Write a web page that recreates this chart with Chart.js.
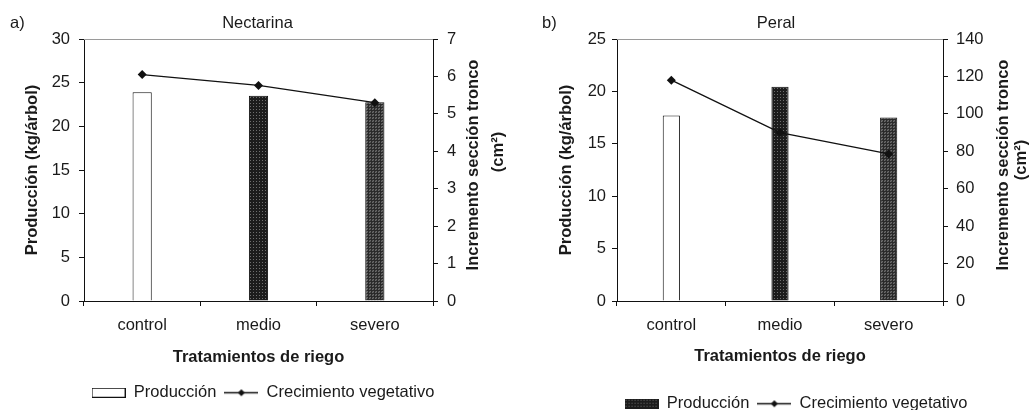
<!DOCTYPE html>
<html>
<head>
<meta charset="utf-8">
<script src="https://cdn.jsdelivr.net/npm/chart.js@4.4.1/dist/chart.umd.min.js"></script>
<style>
  body { margin: 0; background: #fff; width: 1033px; height: 410px; overflow: hidden; position: relative; }
  canvas { position: absolute; top: 0; }
  #nectarina { left: 0; }
  #peral { left: 530px; }
</style>
</head>
<body>
<canvas id="nectarina" width="526" height="411"></canvas>
<canvas id="peral" width="532" height="422"></canvas>
<script>
// Data
const categories = ["control", "medio", "severo"];
const nectarinaProduccion = [23.9, 23.5, 22.75];
const nectarinaCrecimiento = [6.05, 5.76, 5.3];
const peralProduccion = [17.7, 20.45, 17.5];
const peralCrecimiento = [118, 90, 78.6];

// Tick labels
const nectarinaProdTicks = [0, 5, 10, 15, 20, 25, 30];
const nectarinaCrecTicks = [0, 1, 2, 3, 4, 5, 6, 7];
const peralProdTicks = [0, 5, 10, 15, 20, 25];
const peralCrecTicks = [0, 20, 40, 60, 80, 100, 120, 140];

const FONT = "'Liberation Sans', Arial, Helvetica, sans-serif";
const TEXT = "#1a1a1a";

Chart.defaults.font.family = FONT;
Chart.defaults.font.size = 16.5;
Chart.defaults.color = TEXT;

// small tiled patterns for the dark bars
function makePattern(ctx, kind) {
  const c = document.createElement("canvas");
  const x = c.getContext("2d");
  if (kind === "dots") {
    c.width = 3; c.height = 3;
    x.fillStyle = "#1c1c1c"; x.fillRect(0, 0, 3, 3);
    x.fillStyle = "#6e6e6e"; x.fillRect(1, 1, 1, 1);
  } else {
    c.width = 3; c.height = 3;
    x.fillStyle = "#2a2a2a"; x.fillRect(0, 0, 3, 3);
    x.fillStyle = "#6c6c6c"; x.fillRect(0, 0, 2, 2);
    x.fillStyle = "#4a4a4a"; x.fillRect(0, 0, 1, 1); x.fillRect(1, 1, 1, 1);
  }
  return ctx.createPattern(c, "repeat");
}

// legend icons
function barIcon(kind) {
  const c = document.createElement("canvas");
  c.width = 34; c.height = 10;
  const x = c.getContext("2d");
  x.fillStyle = kind === "white" ? "#fff" : makePattern(x, kind);
  x.fillRect(0, 0, 34, 10);
  if (kind === "white") {
    x.strokeStyle = "#111"; x.lineWidth = 1;
    x.strokeRect(0.5, 0.5, 33, 9);
  }
  return c;
}

function lineIcon() {
  const c = document.createElement("canvas");
  c.width = 34; c.height = 11;
  const x = c.getContext("2d");
  x.strokeStyle = "#111"; x.lineWidth = 1.3;
  x.beginPath(); x.moveTo(0, 5.5); x.lineTo(34, 5.5); x.stroke();
  x.fillStyle = "#111";
  x.beginPath();
  x.moveTo(17, 2); x.lineTo(20.5, 5.5); x.lineTo(17, 9); x.lineTo(13.5, 5.5);
  x.closePath(); x.fill();
  return c;
}

// panel letter, title, top frame line and right axis title (drawn bottom-to-top)
const extrasPlugin = {
  id: "extras",
  afterDraw(chart, args, opts) {
    const { ctx, chartArea } = chart;
    ctx.save();
    ctx.strokeStyle = "#9a9a9a";
    ctx.lineWidth = 1;
    ctx.beginPath();
    ctx.moveTo(chartArea.left, chartArea.top + 0.5);
    ctx.lineTo(chartArea.right, chartArea.top + 0.5);
    ctx.stroke();

    ctx.fillStyle = TEXT;
    ctx.textBaseline = "middle";
    ctx.font = "16.5px " + FONT;
    ctx.textAlign = "left";
    ctx.fillText(opts.letter, opts.letterX, 23);
    ctx.textAlign = "center";
    ctx.fillText(opts.title, (chartArea.left + chartArea.right) / 2 + opts.titleDx, 23);

    ctx.font = "bold 16.5px " + FONT;
    opts.rightTitle.forEach((t) => {
      ctx.save();
      ctx.translate(chartArea.right + t.dx, t.cy);
      ctx.rotate(-Math.PI / 2);
      ctx.fillText(t.text, 0, 0);
      ctx.restore();
    });
    ctx.restore();
  },
};

function buildChart(id, setup) {
  const canvas = document.getElementById(id);
  const ctx = canvas.getContext("2d");
  const bars = setup.patterns.map((k) => (k === "white" ? "#ffffff" : makePattern(ctx, k)));
  const icons = [barIcon(setup.legendBar), lineIcon()];

  return new Chart(ctx, {
    type: "bar",
    data: {
      labels: categories,
      datasets: [
        {
          label: "Producción",
          data: setup.produccion,
          backgroundColor: bars,
          borderColor: "#111",
          borderWidth: 1,
          barPercentage: setup.barPct,
          categoryPercentage: 1,
          yAxisID: "y",
          order: 1,
        },
        {
          type: "line",
          label: "Crecimiento vegetativo",
          data: setup.crecimiento,
          borderColor: "#111",
          backgroundColor: "#111",
          borderWidth: 1.3,
          pointStyle: "rectRot",
          pointRadius: 4.5,
          pointBorderWidth: 0,
          tension: 0,
          yAxisID: "y1",
          order: 0,
        },
      ],
    },
    plugins: [extrasPlugin],
    options: {
      responsive: false,
      animation: false,
      layout: { padding: { top: 39, left: 0, right: 0, bottom: 0 } },
      scales: {
        x: {
          offset: true,
          grid: { offset: true, drawOnChartArea: false, tickLength: 5, color: "#111" },
          border: { color: "#111", width: 1 },
          ticks: { padding: 10, color: TEXT },
          title: {
            display: true,
            text: "Tratamientos de riego",
            font: { weight: "bold", size: 16.5 },
            padding: { top: 0, bottom: setup.xTitlePad },
            color: TEXT,
          },
          afterFit: (s) => { s.height = setup.xHeight; },
        },
        y: {
          position: "left",
          min: setup.prodTicks[0],
          max: setup.prodTicks[setup.prodTicks.length - 1],
          afterBuildTicks: (s) => { s.ticks = setup.prodTicks.map((v) => ({ value: v })); },
          grid: { drawOnChartArea: false, tickLength: 5, color: "#111" },
          border: { color: "#111", width: 1 },
          ticks: { padding: setup.yPad, color: TEXT },
          title: {
            display: true,
            text: "Producción (kg/árbol)",
            font: { weight: "bold", size: 16.5 },
            padding: { top: setup.yTitlePad, bottom: 0 },
            color: TEXT,
          },
          afterFit: (s) => { s.width = setup.yWidth; },
        },
        y1: {
          position: "right",
          min: setup.crecTicks[0],
          max: setup.crecTicks[setup.crecTicks.length - 1],
          afterBuildTicks: (s) => { s.ticks = setup.crecTicks.map((v) => ({ value: v })); },
          grid: { drawOnChartArea: false, tickLength: 5, color: "#111" },
          border: { color: "#111", width: 1 },
          ticks: { padding: setup.y1Pad, color: TEXT },
          afterFit: (s) => { s.width = setup.y1Width; },
        },
      },
      plugins: {
        tooltip: { enabled: false },
        legend: {
          position: "bottom",
          labels: {
            usePointStyle: true,
            pointStyleWidth: 34,
            boxHeight: 10,
            padding: 8,
            color: TEXT,
            font: { size: 16.5 },
            generateLabels: (chart) => {
              const items = Chart.defaults.plugins.legend.labels.generateLabels(chart);
              items.forEach((it) => { it.pointStyle = icons[it.datasetIndex]; });
              // bars first, then the line, as in the figure
              return items.sort((a, b) => a.datasetIndex - b.datasetIndex);
            },
          },
        },
        extras: setup.extras,
      },
    },
  });
}

buildChart("nectarina", {
  produccion: nectarinaProduccion,
  crecimiento: nectarinaCrecimiento,
  prodTicks: nectarinaProdTicks,
  crecTicks: nectarinaCrecTicks,
  patterns: ["white", "dots", "mesh"],
  legendBar: "white",
  barPct: 0.165,
  xHeight: 75.5,
  xTitlePad: 9.6,
  yWidth: 84,
  yTitlePad: 23,
  yPad: 9,
  y1Width: 93,
  y1Pad: 9,
  extras: {
    letter: "a)",
    letterX: 10,
    title: "Nectarina",
    titleDx: -1,
    rightTitle: [
      { text: "Incremento sección tronco", dx: 40, cy: 165 },
      { text: "(cm²)", dx: 65, cy: 152 },
    ],
  },
});

buildChart("peral", {
  produccion: peralProduccion,
  crecimiento: peralCrecimiento,
  prodTicks: peralProdTicks,
  crecTicks: peralCrecTicks,
  patterns: ["white", "dots", "mesh"],
  legendBar: "dots",
  barPct: 0.158,
  xHeight: 86.5,
  xTitlePad: 21.6,
  yWidth: 87,
  yTitlePad: 27,
  yPad: 6,
  y1Width: 119,
  y1Pad: 8,
  extras: {
    letter: "b)",
    letterX: 12,
    title: "Peral",
    titleDx: -4,
    rightTitle: [
      { text: "Incremento sección tronco", dx: 60, cy: 165 },
      { text: "(cm²)", dx: 78, cy: 160 },
    ],
  },
});
</script>
</body>
</html>
